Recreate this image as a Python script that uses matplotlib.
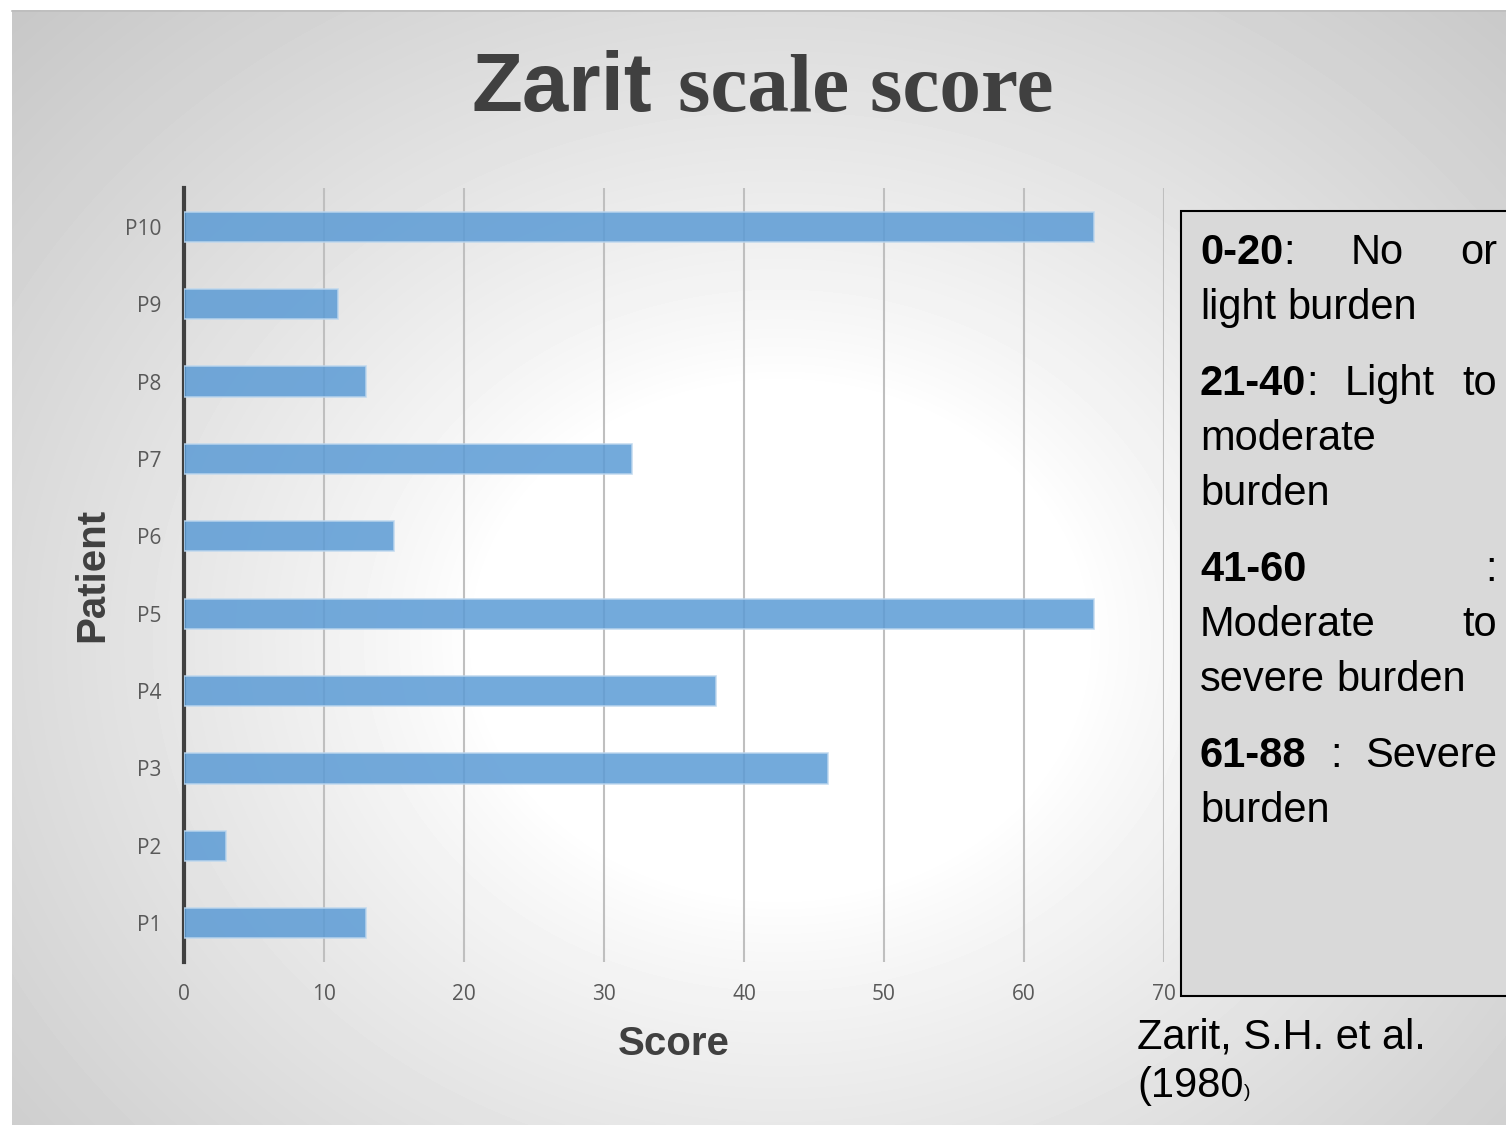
"""Zarit scale score per patient - horizontal bar chart"""

import numpy as np
import matplotlib.pyplot as plt
from matplotlib.patches import Rectangle

W, H = 1506, 1125

PATIENTS = ["P1", "P2", "P3", "P4", "P5", "P6", "P7", "P8", "P9", "P10"]
SCORES = [13, 3, 46, 38, 65, 15, 32, 13, 11, 65]
X_TICKS = [0, 10, 20, 30, 40, 50, 60, 70]

# legend lines: each word is a list of (text, bold) pieces; flag = justified
LEGEND_LINES = [
    ([[("0-20", True), (":", False)], [("No", False)], [("or", False)]], True),
    ([[("light", False)], [("burden", False)]], False),
    ([[("21-40", True), (":", False)], [("Light", False)], [("to", False)]], True),
    ([[("moderate", False)]], False),
    ([[("burden", False)]], False),
    ([[("41-60", True)], [(":", False)]], True),
    ([[("Moderate", False)], [("to", False)]], True),
    ([[("severe", False)], [("burden", False)]], False),
    ([[("61-88", True)], [(":", False)], [("Severe", False)]], True),
    ([[("burden", False)]], False),
]
LEGEND_BASELINES = [264, 319, 395, 450, 505, 581, 636, 691, 767, 822]

BAR = "#5b9bd5"
TXT = "#404040"
TICK = "#595959"


# ── Background ──────────────────────────────────────────────────────────────

fig = plt.figure(figsize=(W / 100, H / 100), dpi=100)
fig.patch.set_facecolor("white")

bg = fig.add_axes([0, 0, 1, 1], zorder=0)
bg.set_xlim(0, W)
bg.set_ylim(H, 0)
bg.axis("off")

x0, y0 = 12, 10
xs = np.arange(x0, W)
ys = np.arange(y0, H)
gx, gy = np.meshgrid(xs, ys)
cx, cy, rx, ry = 780, 640, 760, 640
d = np.sqrt(((gx - cx) / rx) ** 2 + ((gy - cy) / ry) ** 2)
t = np.clip((d - 0.4) / (1.41 - 0.4), 0, 1)
v = (255 - 56 * t ** 0.85) / 255
bg.imshow(v, cmap="gray", vmin=0, vmax=1, extent=(x0, W, H, y0),
          interpolation="bilinear", aspect="auto")
bg.plot([x0, W], [y0 + 0.5, y0 + 0.5], color="#bdbdbd", lw=1.2)

# ── Title ───────────────────────────────────────────────────────────────────

bg.text(472, 111, "Zarit", fontsize=60, fontweight="bold",
        family="Liberation Sans", color=TXT, va="baseline", ha="left")
bg.text(678, 111, "scale score", fontsize=60, fontweight="bold",
        family="Liberation Serif", color=TXT, va="baseline", ha="left")

# ── Bar chart ───────────────────────────────────────────────────────────────

ax = fig.add_axes([184 / W, 1 - 962 / H, 980 / W, (962 - 188) / H], zorder=2)
ax.patch.set_alpha(0)

ypos = np.arange(len(PATIENTS))
ax.barh(ypos, SCORES, height=0.39, color=BAR, alpha=0.85,
        edgecolor="#bdd7ee", linewidth=1.2, zorder=3)

ax.set_xlim(0, 70)
ax.set_ylim(-0.5, len(PATIENTS) - 0.5)
ax.set_xticks(X_TICKS)
ax.set_yticks(ypos)
ax.set_yticklabels(PATIENTS)
for tk in X_TICKS[1:]:
    ax.axvline(tk, color="#bfbfbf", lw=1.5, zorder=1)

for sp in ["top", "right", "bottom"]:
    ax.spines[sp].set_visible(False)
ax.spines["left"].set_color(TXT)
ax.spines["left"].set_linewidth(3)
ax.tick_params(axis="both", length=0, colors=TICK, labelsize=15)
ax.tick_params(axis="x", pad=16)
ax.tick_params(axis="y", pad=16)
for lbl in ax.get_xticklabels() + ax.get_yticklabels():
    lbl.set_family("Open Sans")

ax.set_xlabel("Score", fontsize=29, fontweight="bold", color=TXT,
              family="Liberation Sans", labelpad=14)
ax.set_ylabel("Patient", fontsize=29, fontweight="bold", color=TXT,
              family="Liberation Sans", labelpad=10)

# ── Legend box ──────────────────────────────────────────────────────────────

bg.add_patch(Rectangle((1181, 211), 340, 996 - 211, facecolor="#d9d9d9",
                       edgecolor="black", lw=1.5, zorder=3))

renderer = fig.canvas.get_renderer()
LEFT, RIGHT = 1200, 1497
FS = 30


def word_width(word):
    w = 0
    for txt, bold in word:
        t = bg.text(0, 0, txt, fontsize=FS, family="Liberation Sans",
                    fontweight="bold" if bold else "normal")
        w += t.get_window_extent(renderer).width
        t.remove()
    return w


def draw_word(x, y, word):
    for txt, bold in word:
        t = bg.text(x, y, txt, fontsize=FS, family="Liberation Sans",
                    fontweight="bold" if bold else "normal", color="black",
                    va="baseline", ha="left", zorder=4)
        x += t.get_window_extent(renderer).width


space = word_width([(" ", False)])
for (words, justified), base in zip(LEGEND_LINES, LEGEND_BASELINES):
    widths = [word_width(w) for w in words]
    if justified and len(words) > 1:
        gap = (RIGHT - LEFT - sum(widths)) / (len(words) - 1)
    else:
        gap = space
    x = LEFT
    for w, wd in zip(words, widths):
        draw_word(x, base, w)
        x += wd + gap

# ── Citation ────────────────────────────────────────────────────────────────

bg.text(1137, 1048, "Zarit, S.H. et al.", fontsize=30, family="Liberation Sans",
        color="black", va="baseline", zorder=4)
t = bg.text(1137, 1097, "(1980", fontsize=30, family="Liberation Sans",
            color="black", va="baseline", zorder=4)
xe = 1137 + t.get_window_extent(renderer).width
bg.text(xe, 1097, ")", fontsize=14, family="Liberation Sans",
        color="black", va="baseline", zorder=4)

fig.savefig("out.png", dpi=100)
